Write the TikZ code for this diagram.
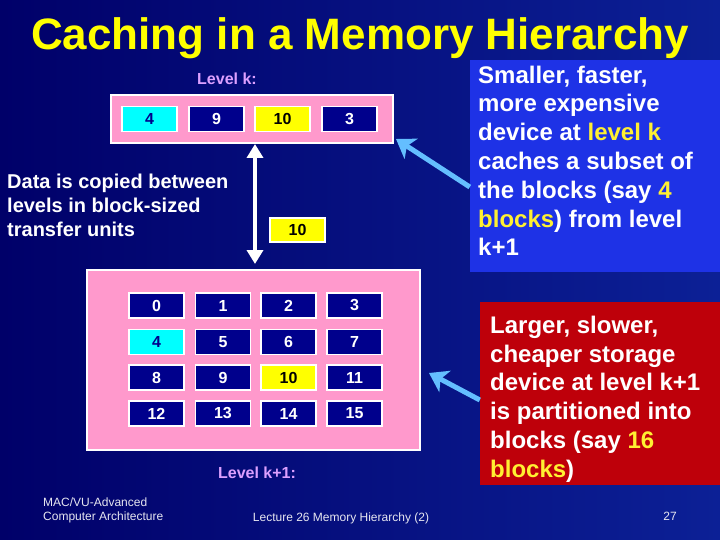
\documentclass[tikz,border=0pt]{standalone}
\usepackage{fontspec}
\setmainfont{Liberation Sans}
\usetikzlibrary{arrows.meta}
\definecolor{bgA}{RGB}{0,0,105}
\definecolor{bgB}{RGB}{12,32,150}
\definecolor{cellblue}{RGB}{0,0,140}
\definecolor{pinkbg}{RGB}{255,153,204}
\definecolor{cyanc}{RGB}{0,255,255}
\definecolor{yellowc}{RGB}{255,255,0}
\definecolor{lav}{RGB}{220,160,255}
\definecolor{boxblue}{RGB}{30,50,230}
\definecolor{boxred}{RGB}{190,0,10}
\definecolor{arrowc}{RGB}{100,190,255}
\definecolor{hl}{RGB}{255,240,50}
\definecolor{titley}{RGB}{255,255,0}
\definecolor{foot}{RGB}{230,230,240}
\begin{document}
\begin{tikzpicture}[x=1pt,y=-1pt,
  cell/.style={draw=white, line width=1.5pt, minimum width=55pt, minimum height=25pt,
    inner sep=0pt, font=\fontsize{16}{19}\selectfont\bfseries, fill=cellblue, text=white},
  cellc/.style={cell, fill=cyanc, text=cellblue},
  celly/.style={cell, fill=yellowc, text=black},
  levelbox/.style={draw=white, line width=2pt, fill=pinkbg, inner sep=0pt},
  levellabel/.style={anchor=base, text=lav, font=\fontsize{16}{19}\selectfont\bfseries},
  bodytext/.style={anchor=north west, inner sep=0pt, align=left, text=white,
    font=\fontsize{24}{28.8}\selectfont\bfseries},
  callout/.style={draw=arrowc, line width=5pt, -{Stealth[length=18pt,width=24pt,inset=5pt]}},
  dblarrow/.style={draw=white, line width=4.5pt, {Triangle[length=14pt,width=16pt]}-{Triangle[length=14pt,width=16pt]}},
  footer/.style={text=foot, font=\fontsize{12}{14}\selectfont, inner sep=0pt}
]
\useasboundingbox (0,0) rectangle (720,540);
\shade[left color=bgA, right color=bgB] (0,0) rectangle (720,540);

% title
\node[anchor=base, text=titley, font=\fontsize{44}{52}\selectfont\bfseries] (title) at (360,50) {Caching in a Memory Hierarchy};

% level k
\node[levellabel] (lk) at (227,85) {Level k:};
\node[levelbox, minimum width=282pt, minimum height=48pt] (kbox) at (252,119) {};
\node[cellc] (k4) at (149.5,119) {4};
\node[cell] (k9) at (216.5,119) {9};
\node[celly] (k10) at (282.5,119) {10};
\node[cell] (k3) at (349.5,119) {3};

% level k+1
\node[levelbox, minimum width=333pt, minimum height=180pt] (k1box) at (253.5,360) {};
\node[cell]  (c0)  at (156.5,305.5) {0};
\node[cell]  (c1)  at (223,305.5) {1};
\node[cell]  (c2)  at (288.5,305.5) {2};
\node[cell]  (c3)  at (354.5,305.5) {3};
\node[cellc] (c4)  at (156.5,342) {4};
\node[cell]  (c5)  at (223,342) {5};
\node[cell]  (c6)  at (288.5,342) {6};
\node[cell]  (c7)  at (354.5,342) {7};
\node[cell]  (c8)  at (156.5,377.5) {8};
\node[cell]  (c9)  at (223,377.5) {9};
\node[celly] (c10) at (288.5,377.5) {10};
\node[cell]  (c11) at (354.5,377.5) {11};
\node[cell]  (c12) at (156.5,413.5) {12};
\node[cell]  (c13) at (223,413.5) {13};
\node[cell]  (c14) at (288.5,413.5) {14};
\node[cell]  (c15) at (354.5,413.5) {15};
\node[levellabel] (lk1) at (257,478) {Level k+1:};

% transfer
\coordinate (ax) at (255,0);
\coordinate (b2) at ([yshift=5pt]k1box.north);
\draw[dblarrow] (kbox.south -| ax) -- (b2 -| ax);
\node[celly, minimum height=24pt] (t10) at (297.5,230) {10};
\node[bodytext, font=\fontsize{20}{24}\selectfont\bfseries] (datatext) at (7,174)
  {Data is copied between\\levels in block-sized\\transfer units};

% right boxes
\node[fill=boxblue, minimum width=250pt, minimum height=212pt, inner sep=0pt] (bluebox) at (595,166) {};
\node[bodytext] (bluetext) at (478,65.5)
  {Smaller, faster,\\more expensive\\device at \textcolor{hl}{level k}\\caches a subset of\\the blocks (say \textcolor{hl}{4}\\\textcolor{hl}{blocks}) from level\\k+1};
\node[fill=boxred, minimum width=240pt, minimum height=183pt, inner sep=0pt] (redbox) at (600,393.5) {};
\node[bodytext] (redtext) at (490,315.8)
  {Larger, slower,\\cheaper storage\\device at level k+1\\is partitioned into\\blocks (say \textcolor{hl}{16}\\\textcolor{hl}{blocks})};

% callout arrows
\coordinate (h1) at ([shift={(2pt,5pt)}]kbox.south east);
\draw[callout] (bluebox.west |- 0,187) -- (h1);
\coordinate (h2) at ([xshift=8pt]k1box.east);
\draw[callout] (redbox.west |- 0,400) -- (h2 |- 0,373);

% footer
\node[footer, anchor=base west, align=left] (f1) at (43,506) {MAC/VU-Advanced};
\node[footer, anchor=base west] (f2) at (43,520) {Computer Architecture};
\node[footer, anchor=base] (f3) at (341,521) {Lecture 26 Memory Hierarchy (2)};
\node[footer, anchor=base] (f4) at (670,520) {27};
\end{tikzpicture}
\end{document}
